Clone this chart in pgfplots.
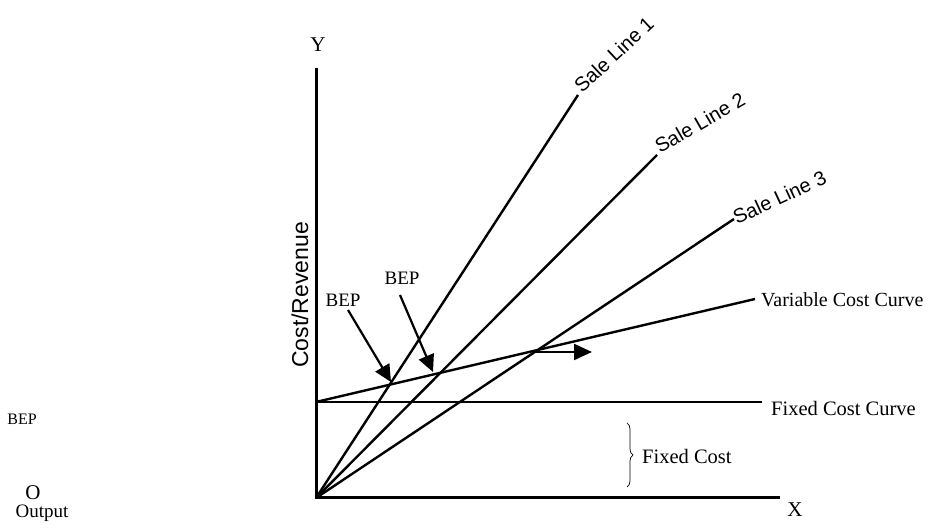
\documentclass[border=0pt]{standalone}
\usepackage{fontspec}
\setmainfont{Liberation Serif}
\setsansfont{Liberation Sans}
\usepackage{pgfplots}
\pgfplotsset{compat=1.18}
\usetikzlibrary{arrows.meta,decorations.pathreplacing}
\begin{document}
\begin{tikzpicture}
\begin{axis}[
  width=938pt, height=529pt, scale only axis,
  xmin=-316, xmax=622, ymin=-31, ymax=498,
  hide axis, clip=false,
]
\coordinate (bl) at (rel axis cs:0,0);
\coordinate (tr) at (rel axis cs:1,1);
% axes
\addplot[black, line width=3pt, no marks] coordinates {(0,430) (0,0) (464,0)};
% fixed cost curve
\addplot[black, line width=2.6pt, no marks] coordinates {(0,96) (446,96)};
% variable cost curve
\addplot[black, line width=2.4pt, no marks] coordinates {(0,96) (439,199)};
% sale lines
\addplot[black, line width=2.4pt, no marks] coordinates {(0,0) (262,403)};
\addplot[black, line width=2.4pt, no marks] coordinates {(0,0) (341,343)};
\addplot[black, line width=2.4pt, no marks] coordinates {(0,0) (418,279)};
% arrows
\addplot[black, line width=2.2pt, no marks, -{Triangle[length=17pt,width=16pt]}] coordinates {(32,188) (75,116)};
\addplot[black, line width=2.2pt, no marks, -{Triangle[length=17pt,width=16pt]}] coordinates {(84,203) (117,126)};
\addplot[black, line width=2.2pt, no marks, -{Triangle[length=18pt,width=16pt]}] coordinates {(217,146) (276,146)};
% brace
\draw[black, line width=0.7pt, decorate, decoration={brace, amplitude=6pt}] (axis cs:311,75) -- (axis cs:311,11);
% texts
\node[font=\fontsize{21}{24}\selectfont] at (axis cs:2,453) {Y};
\node[font=\fontsize{21}{24}\selectfont] at (axis cs:479,-12) {X};
\node[font=\fontsize{16}{18}\selectfont] at (axis cs:-294,79) {BEP};
\node[font=\fontsize{21}{24}\selectfont] at (axis cs:-283,5) {O};
\node[font=\fontsize{19}{22}\selectfont] at (axis cs:-274,-15) {Output};
\node[font=\fontsize{19}{22}\selectfont] at (axis cs:27,198) {BEP};
\node[font=\fontsize{19}{22}\selectfont] at (axis cs:86,220) {BEP};
\node[font=\fontsize{20}{24}\selectfont, anchor=west, inner sep=1pt] at (axis cs:444,198) {Variable Cost Curve};
\node[font=\fontsize{20.5}{24}\selectfont, anchor=west, inner sep=1pt] at (axis cs:454,90) {Fixed Cost Curve};
\node[font=\fontsize{20.5}{24}\selectfont, anchor=west, inner sep=1pt] at (axis cs:325,42) {Fixed Cost};
\node[font=\sffamily\fontsize{23}{26}\selectfont, rotate=90] at (axis cs:-16,203) {Cost/Revenue};
\node[font=\sffamily\fontsize{20}{24}\selectfont, rotate=43, anchor=base west, inner sep=0pt] at (axis cs:266,404) {Sale Line 1};
\node[font=\sffamily\fontsize{20}{24}\selectfont, rotate=30, anchor=base west, inner sep=0pt] at (axis cs:344,344) {Sale Line 2};
\node[font=\sffamily\fontsize{20}{24}\selectfont, rotate=25, anchor=base west, inner sep=0pt] at (axis cs:421,273) {Sale Line 3};
\end{axis}
\pgfresetboundingbox
\useasboundingbox (bl) rectangle (tr);
\end{tikzpicture}
\end{document}
